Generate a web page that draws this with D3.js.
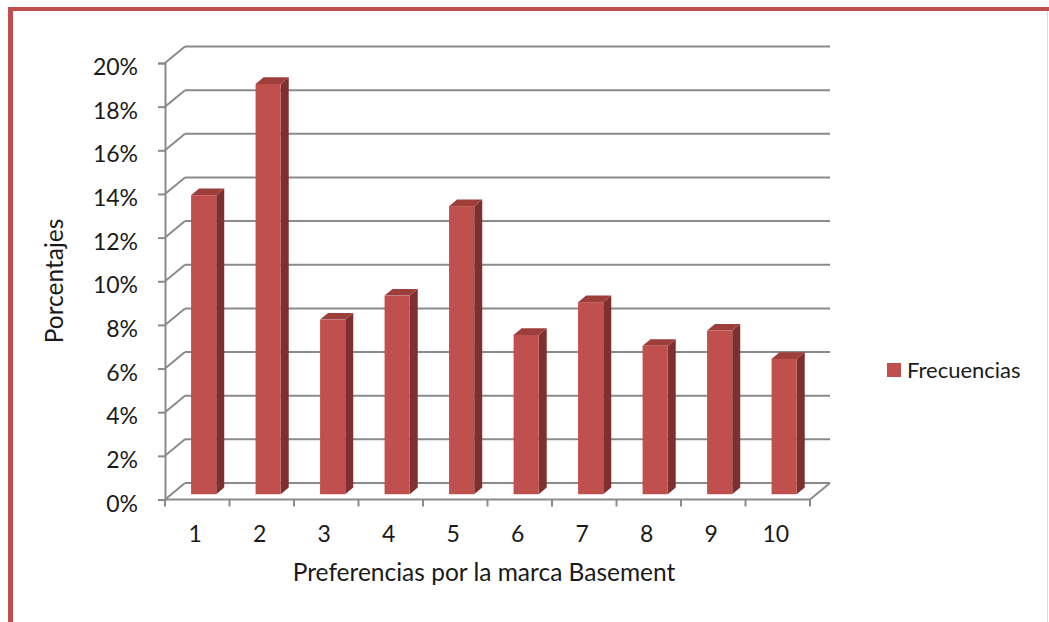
<!DOCTYPE html>
<html>
<head>
<meta charset="utf-8">
<script src="https://cdn.jsdelivr.net/npm/d3@7"></script>
<style>
  html, body { margin: 0; padding: 0; background: #fff; }
  svg { display: block; }
  text { font-family: Lato, "Open Sans", sans-serif; fill: #1a1a1a; }
</style>
</head>
<body>
<svg id="chart" width="1049" height="622"></svg>
<script>
// Preference shares for the Basement brand
const categories = ["1", "2", "3", "4", "5", "6", "7", "8", "9", "10"];
const frecuencias = [0.137, 0.188, 0.080, 0.091, 0.132, 0.073, 0.088, 0.068, 0.075, 0.062];
const yTicks = [0, 0.02, 0.04, 0.06, 0.08, 0.10, 0.12, 0.14, 0.16, 0.18, 0.20];
const seriesName = "Frecuencias";
const xTitle = "Preferencias por la marca Basement";
const yTitle = "Porcentajes";

(function () {
const svg = d3.select("#chart");

// outer frame
const frame = svg.append("g");
frame.append("rect").attr("x", 8).attr("y", 7).attr("width", 1041).attr("height", 4).attr("fill", "#c0504d");
frame.append("rect").attr("x", 8).attr("y", 7).attr("width", 5).attr("height", 615).attr("fill", "#c0504d");
frame.append("line").attr("x1", 1047.5).attr("x2", 1047.5).attr("y1", 11).attr("y2", 622)
  .attr("stroke", "#f0d0d0").attr("stroke-width", 1);

// plot geometry (oblique 3-D projection)
const plotLeft = 165, plotRight = 810, plotTop = 63, plotBottom = 499.5;
const dx = 20, dy = 16.5;          // depth offset of the back wall
const x = d3.scaleBand().domain(categories).range([plotLeft, plotRight]);
const y = d3.scaleLinear().domain([0, 0.2]).range([plotBottom, plotTop]);

const gridColor = "#8a8a8a";
const grid = svg.append("g");

// back-wall gridlines and side-wall diagonals
yTicks.forEach(t => {
  const yy = y(t);
  grid.append("line")
    .attr("x1", plotLeft + dx).attr("x2", plotRight + dx)
    .attr("y1", yy - dy).attr("y2", yy - dy)
    .attr("stroke", gridColor).attr("stroke-width", 2);
  grid.append("line")
    .attr("x1", plotLeft).attr("y1", yy)
    .attr("x2", plotLeft + dx).attr("y2", yy - dy)
    .attr("stroke", gridColor).attr("stroke-width", 2);
});

// floor right diagonal
grid.append("line").attr("x1", plotRight).attr("y1", plotBottom).attr("x2", plotRight + dx).attr("y2", plotBottom - dy)
  .attr("stroke", gridColor).attr("stroke-width", 2);

// y axis
const yAxis = d3.axisLeft(y).tickValues(yTicks).tickFormat(d3.format(".0%")).tickSize(7).tickPadding(20);
const gy = svg.append("g").attr("transform", `translate(${plotLeft},0)`).call(yAxis);
gy.select(".domain").attr("stroke", gridColor).attr("stroke-width", 2);
gy.selectAll(".tick line").attr("stroke", gridColor).attr("stroke-width", 2);
gy.selectAll(".tick text").attr("font-size", 23).attr("font-family", "Lato, sans-serif")
  .attr("fill", "#1a1a1a").attr("dy", "0.5em");

// x axis (ticks at category boundaries)
const gx = svg.append("g").attr("transform", `translate(0,${plotBottom})`);
gx.append("line").attr("x1", plotLeft).attr("x2", plotRight).attr("stroke", gridColor).attr("stroke-width", 2);
categories.concat([null]).forEach(c => {
  const xx = c === null ? plotRight : x(c);
  gx.append("line").attr("x1", xx).attr("x2", xx).attr("y1", 0).attr("y2", 7)
    .attr("stroke", gridColor).attr("stroke-width", 2);
});
gx.selectAll("text.cat").data(categories).join("text")
  .attr("class", "cat")
  .attr("x", d => x(d) + x.bandwidth() / 2 - 2)
  .attr("y", 42.5)
  .attr("text-anchor", "middle")
  .attr("font-size", 23)
  .text(d => d);

// 3-D columns
const fFront = 0.32, fBack = 0.72;
const bw = x.bandwidth() * 0.39;
const barColors = { front: "#c0504d", side: "#7e302e", top: "#9e3e3b" };
const bars = svg.append("g");
categories.forEach((c, i) => {
  const v = frecuencias[i];
  const ox = dx * fFront, oy = dy * fFront;
  const ddx = dx * (fBack - fFront), ddy = dy * (fBack - fFront);
  const x0 = x(c) + x.bandwidth() / 2 - bw / 2 + ox;
  const x1 = x0 + bw;
  const yb = y(0) - oy;
  const yt = y(v) - oy;
  const g = bars.append("g");
  // side face
  g.append("path")
    .attr("d", `M${x1},${yb} L${x1 + ddx},${yb - ddy} L${x1 + ddx},${yt - ddy} L${x1},${yt} Z`)
    .attr("fill", barColors.side);
  // top face
  g.append("path")
    .attr("d", `M${x0},${yt} L${x0 + ddx},${yt - ddy} L${x1 + ddx},${yt - ddy} L${x1},${yt} Z`)
    .attr("fill", barColors.top);
  // front face
  g.append("rect")
    .attr("x", x0).attr("y", yt).attr("width", bw).attr("height", yb - yt)
    .attr("fill", barColors.front);
});

// axis titles
svg.append("text")
  .attr("x", 484).attr("y", 581)
  .attr("text-anchor", "middle")
  .attr("font-size", 24.5)
  .text(xTitle);
svg.append("text")
  .attr("transform", "translate(63,281) rotate(-90)")
  .attr("text-anchor", "middle")
  .attr("font-size", 24.5)
  .text(yTitle);

// legend
const lg = svg.append("g").attr("transform", "translate(887,363)");
lg.append("rect").attr("width", 14).attr("height", 14).attr("fill", barColors.front);
lg.append("text").attr("x", 20).attr("y", 14.5).attr("font-size", 22).text(seriesName);
})();
</script>
</body>
</html>
